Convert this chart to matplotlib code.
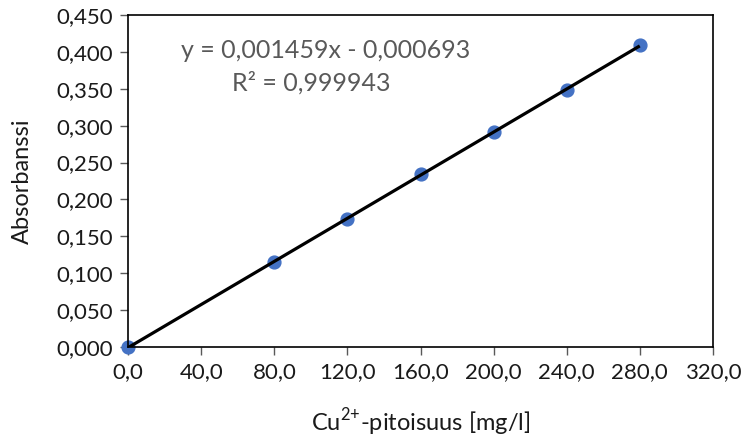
import matplotlib
matplotlib.use("Agg")
import matplotlib.pyplot as plt
import numpy as np

conc = [0, 80, 120, 160, 200, 240, 280]
absorb = [0.000, 0.115, 0.174, 0.234, 0.292, 0.348, 0.409]
eq_text = "y = 0,001459x - 0,000693"
r2_text = "R² = 0,999943"
xticks = [0, 40, 80, 120, 160, 200, 240, 280, 320]
yticks = [0, 0.05, 0.1, 0.15, 0.2, 0.25, 0.3, 0.35, 0.4, 0.45]

plt.rcParams['font.family'] = ['Lato', 'DejaVu Sans']
plt.rcParams['mathtext.fontset'] = 'custom'
plt.rcParams['mathtext.rm'] = 'Lato'
fig = plt.figure(figsize=(7.41, 4.41), dpi=100)
ax = fig.add_axes([0.173, 0.213, 0.789, 0.753])

slope, intercept = np.polyfit(conc, absorb, 1)
xs = np.array([min(conc), max(conc)])
ax.plot(xs, slope * xs + intercept, color='black', lw=2.3, zorder=3, solid_capstyle='butt')
ax.scatter(conc, absorb, s=85, color='#4472C4', zorder=2, clip_on=False)

ax.set_xlim(0, 320)
ax.set_ylim(0, 0.45)
ax.set_xticks(xticks)
ax.set_yticks(yticks)
ax.set_xticklabels([f"{v:.1f}".replace('.', ',') for v in xticks])
ax.set_yticklabels([f"{v:.3f}".replace('.', ',') for v in yticks])
ax.tick_params(direction='out', length=6, width=1, color='#595959', labelsize=16, labelcolor='#1a1a1a', pad=5)
for s in ax.spines.values():
    s.set_color('black')
    s.set_linewidth(1.2)

ax.set_xlabel(r"Cu$^{\mathregular{2{+}}}$-pitoisuus [mg/l]", fontsize=17, color='#1a1a1a', labelpad=17)
ax.set_ylabel("Absorbanssi", fontsize=17, color='#1a1a1a', labelpad=17)

fig.text(326 / 741, 1 - 50 / 441, eq_text, ha='center', va='center', fontsize=18, color='#595959')
fig.text(311 / 741, 1 - 83 / 441, r2_text, ha='center', va='center', fontsize=18, color='#595959')

fig.savefig("out.png", dpi=100)
